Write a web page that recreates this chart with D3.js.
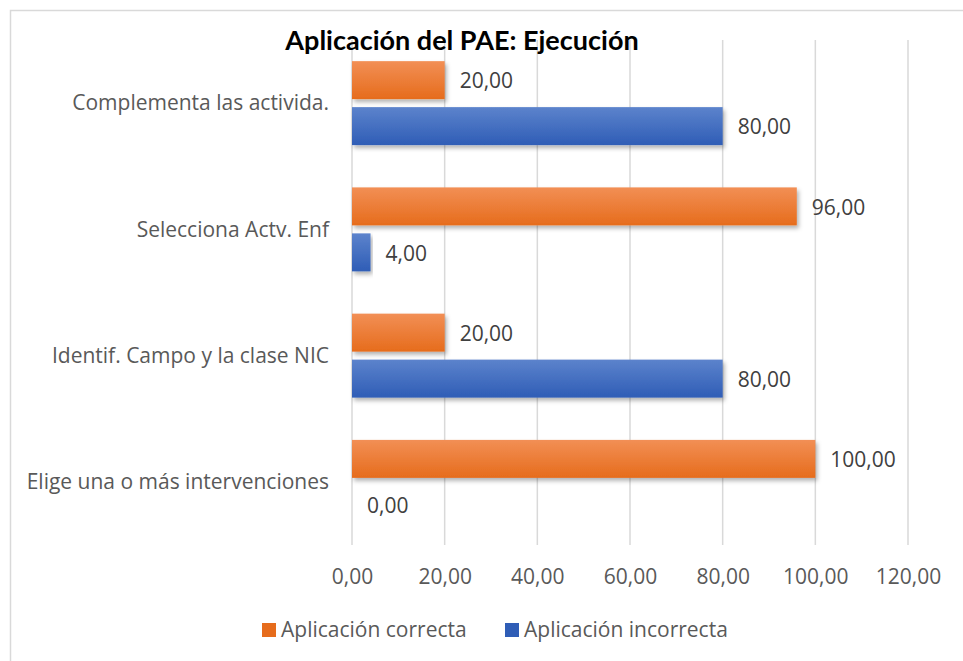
<!DOCTYPE html>
<html>
<head>
<meta charset="utf-8">
<script src="https://cdn.jsdelivr.net/npm/d3@7"></script>
<style>
  body { margin: 0; background: #fff; }
  text { font-family: "Open Sans", sans-serif; }
</style>
</head>
<body>
<div id="chart"></div>
<script>
var categories = ["Complementa las activida.", "Selecciona Actv. Enf", "Identif. Campo y la clase NIC", "Elige una o más intervenciones"];
var seriesNames = ["Aplicación correcta", "Aplicación incorrecta"];
var correcta = [20, 96, 20, 100];
var incorrecta = [80, 4, 80, 0];
var ticks = [0, 20, 40, 60, 80, 100, 120];

var width = 963,
    height = 661,
    margin = {top: 40, right: 55, bottom: 116, left: 352};

var colors = {"Aplicación correcta": ["#f28f55", "#e66c1c"], "Aplicación incorrecta": ["#5c83cc", "#2f5db6"]};
var keys = {"Aplicación correcta": "c", "Aplicación incorrecta": "i"};

var fmt = function(v) { return d3.format(".2f")(v).replace(".", ","); };

var data = categories.map(function(c, i) {
  return {cat: c, values: [
    {name: seriesNames[0], value: correcta[i]},
    {name: seriesNames[1], value: incorrecta[i]}
  ]};
});

var svg = d3.select("#chart").append("svg")
    .attr("width", width)
    .attr("height", height);

var defs = svg.append("defs");
seriesNames.forEach(function(s) {
  var g = defs.append("linearGradient")
      .attr("id", "grad-" + keys[s])
      .attr("x1", 0).attr("y1", 0).attr("x2", 0).attr("y2", 1);
  g.append("stop").attr("offset", "0%").attr("stop-color", colors[s][0]);
  g.append("stop").attr("offset", "100%").attr("stop-color", colors[s][1]);
});
var shadow = defs.append("filter").attr("id", "shadow")
    .attr("x", "-5%").attr("y", "-20%").attr("width", "115%").attr("height", "160%");
shadow.append("feDropShadow")
    .attr("dx", 2).attr("dy", 3).attr("stdDeviation", 2)
    .attr("flood-color", "#000").attr("flood-opacity", 0.3);

// frame
svg.append("rect")
    .attr("x", 10.5).attr("y", 10.5)
    .attr("width", width).attr("height", height)
    .attr("fill", "none")
    .attr("stroke", "#d9d9d9")
    .attr("stroke-width", 1.5);

var x = d3.scaleLinear()
    .domain([0, 120])
    .range([margin.left, width - margin.right]);

var y0 = d3.scaleBand()
    .domain(categories)
    .range([margin.top, height - margin.bottom]);

var y1 = d3.scaleBand()
    .domain(seriesNames)
    .range([0, y0.bandwidth()])
    .paddingInner(0.174)
    .paddingOuter(0.46);

// gridlines
svg.append("g")
  .selectAll("line")
    .data(ticks)
  .enter().append("line")
    .attr("x1", function(d) { return x(d); })
    .attr("x2", function(d) { return x(d); })
    .attr("y1", margin.top)
    .attr("y2", height - margin.bottom)
    .attr("stroke", "#d9d9d9")
    .attr("stroke-width", 1.5);

// x axis labels
var xAxis = d3.axisBottom(x)
    .tickValues(ticks)
    .tickFormat(fmt)
    .tickSize(0)
    .tickPadding(24);

var ax = svg.append("g")
    .attr("transform", "translate(0," + (height - margin.bottom) + ")")
    .call(xAxis);
ax.select(".domain").remove();
ax.selectAll("text")
    .attr("fill", "#595959")
    .style("font-size", "21px")
    .style("font-family", "'Open Sans', sans-serif");

// category labels
svg.append("g")
  .selectAll("text")
    .data(categories)
  .enter().append("text")
    .attr("x", 329)
    .attr("y", function(d) { return y0(d) + y0.bandwidth() / 2; })
    .attr("dy", ".35em")
    .attr("text-anchor", "end")
    .attr("fill", "#595959")
    .style("font-size", "21px")
    .text(function(d) { return d; });

// bars
var groups = svg.append("g")
  .selectAll("g")
    .data(data)
  .enter().append("g")
    .attr("transform", function(d) { return "translate(0," + y0(d.cat) + ")"; });

groups.selectAll("rect")
    .data(function(d) { return d.values; })
  .enter().append("rect")
    .attr("x", x(0))
    .attr("y", function(d) { return y1(d.name); })
    .attr("width", function(d) { return x(d.value) - x(0); })
    .attr("height", y1.bandwidth())
    .attr("fill", function(d) { return "url(#grad-" + keys[d.name] + ")"; })
    .attr("filter", "url(#shadow)");

groups.selectAll("text")
    .data(function(d) { return d.values; })
  .enter().append("text")
    .attr("x", function(d) { return x(d.value) + 15; })
    .attr("y", function(d) { return y1(d.name) + y1.bandwidth() / 2 + 1; })
    .attr("dy", ".35em")
    .attr("fill", "#404040")
    .style("font-size", "21px")
    .text(function(d) { return fmt(d.value); });

// title
svg.append("text")
    .attr("x", 462)
    .attr("y", 50)
    .attr("text-anchor", "middle")
    .attr("fill", "#000")
    .style("font-family", "Lato, sans-serif")
    .style("font-size", "27px")
    .style("font-weight", "bold")
    .text("Aplicación del PAE: Ejecución");

// legend
var legend = svg.append("g")
  .selectAll("g")
    .data(seriesNames)
  .enter().append("g")
    .attr("transform", function(d, i) { return "translate(" + [262, 505][i] + ",623)"; });

legend.append("rect")
    .attr("width", 14)
    .attr("height", 14)
    .attr("fill", function(d) { return colors[d][1]; });

legend.append("text")
    .attr("x", 19)
    .attr("y", 7)
    .attr("dy", ".35em")
    .attr("fill", "#595959")
    .style("font-size", "21px")
    .text(function(d) { return d; });
</script>
</body>
</html>
